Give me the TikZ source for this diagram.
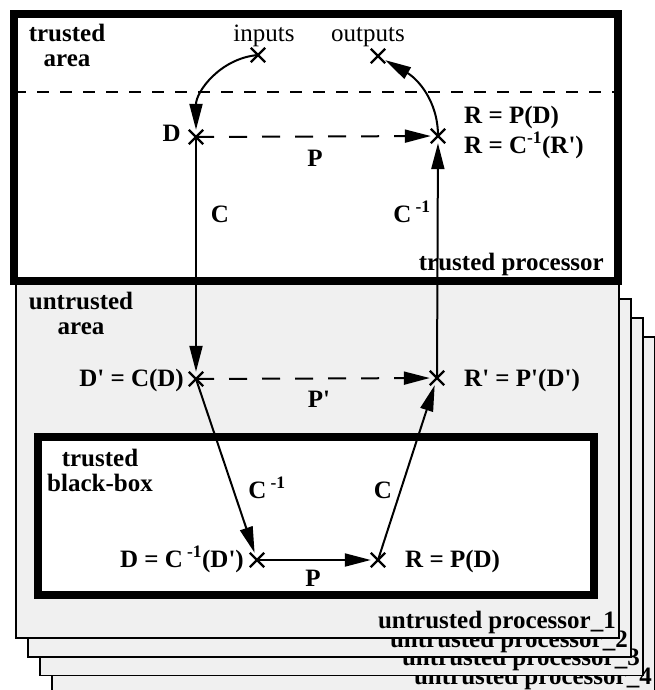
\documentclass[tikz,border=0pt]{standalone}
\usepackage{fontspec}
\setmainfont{Liberation Serif}
\usetikzlibrary{arrows.meta,shapes.misc}

\begin{document}
\begin{tikzpicture}[x=1pt,y=-1pt,
  every node/.style={font=\fontsize{25}{25}\selectfont\bfseries,inner sep=0pt},
  xmark/.style={cross out,draw,line width=2.4pt,minimum size=12pt},
  flow/.style={line width=2pt,-{Triangle[length=26pt,width=13pt]}},
  dflow/.style={flow,dash pattern=on 18pt off 15pt},
  thickbox/.style={line width=7.5pt,fill=white},
  procbox/.style={line width=1.8pt,fill=black!6}]
  \useasboundingbox (0,0) rectangle (655,690);

  % stack of untrusted processors, back to front
  \foreach \i in {4,3,2,1}{
    \pgfmathsetmacro{\dx}{12*(\i-1)}
    \pgfmathsetmacro{\top}{280+19*(\i-1)}
    \pgfmathsetmacro{\bot}{638+18.7*(\i-1)}
    \draw[procbox] (16+\dx,\top) rectangle (619+\dx,\bot);
    \node[anchor=base east] (plab\i) at (616+\dx,\bot-9.5) {untrusted processor\_\i};
  }

  % trusted processor
  \draw[thickbox] (14,14) rectangle (618,281);
  \draw[line width=1.8pt,dash pattern=on 12pt off 11pt] (14,92) -- (618,92);
  \node[align=center,anchor=base] (tarea) at (67,67) {trusted\\area};
  \node[anchor=base east] (tproc) at (604,270) {trusted processor};

  % trusted black-box
  \draw[thickbox] (38,437) rectangle (594,595);
  \node[align=center,anchor=base] (bbox) at (100,491) {trusted\\black-box};
  \node[align=center,anchor=base] (uarea) at (81,334) {untrusted\\area};

  % points
  \node[xmark] (in) at (258,55) {};
  \node[xmark] (out) at (378,56) {};
  \node[xmark] (D) at (196,137) {};
  \node[xmark] (R) at (438,136) {};
  \node[xmark] (Dp) at (196,379) {};
  \node[xmark] (Rp) at (437,378) {};
  \node[xmark] (Db) at (257,560) {};
  \node[xmark] (Rb) at (378,560) {};

  % texts at points
  \node[anchor=base,font=\fontsize{25}{25}\selectfont] (inlab) at (264,42) {inputs};
  \node[anchor=base,font=\fontsize{25}{25}\selectfont] (outlab) at (368,42) {outputs};
  \node[anchor=base east] (Dlab) at (181,141) {D};
  \node[anchor=base west] (Rlab) at (464,124) {R = P(D)};
  \node[anchor=base west] (Rlab2) at (464,153) {R = C\textsuperscript{-1}(R\textquotesingle)};
  \node[anchor=base east] (Dplab) at (184,386) {D\textquotesingle{} = C(D)};
  \node[anchor=base west] (Rplab) at (464,386) {R\textquotesingle{} = P\textquotesingle(D\textquotesingle)};
  \node[anchor=base east] (Dblab) at (244,567) {D = C\,\textsuperscript{-1}(D\textquotesingle)};
  \node[anchor=base west] (Rblab) at (405,567) {R = P(D)};

  % flows
  \draw[flow] (in.center) to[out=185,in=90] (D);
  \draw[flow] (R.center) to[out=90,in=-30] (out);
  \draw[dflow] (D.center) -- (R);
  \draw[flow] (D.center) -- (Dp);
  \draw[flow] (Rp.center) -- (R);
  \draw[dflow] (Dp.center) -- (Rp);
  \draw[flow] (Dp.center) -- (Db);
  \draw[flow] (Rb.center) -- (Rp);
  \draw[flow] (Db.center) -- (Rb);

  % flow labels
  \node[anchor=base] (P1) at (315,166) {P};
  \node[anchor=base] (C1) at (220,222) {C};
  \node[anchor=base] (Ci1) at (412,222) {C\,\textsuperscript{-1}};
  \node[anchor=base] (P2) at (319,407) {P\textquotesingle};
  \node[anchor=base] (Ci2) at (267,498) {C\,\textsuperscript{-1}};
  \node[anchor=base] (C2) at (383,498) {C};
  \node[anchor=base] (P3) at (313,586) {P};
\end{tikzpicture}
\end{document}
